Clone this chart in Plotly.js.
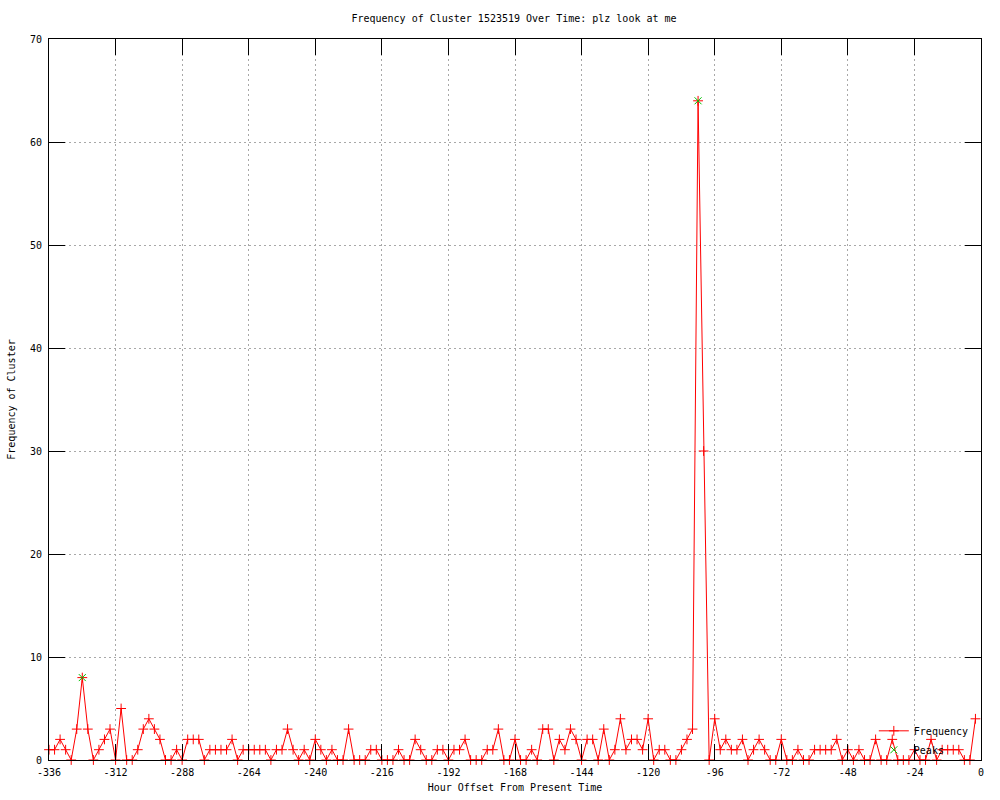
<!DOCTYPE html>
<html>
<head>
<meta charset="utf-8">
<script src="https://cdn.plot.ly/plotly-3.0.1.min.js"></script>
<style>
  html, body { margin: 0; padding: 0; background: #ffffff; }
  #chart { width: 1000px; height: 800px; }
</style>
</head>
<body>
<div id="chart"></div>
<script>
// Hour offsets (every 2 hours) and cluster frequency
const hours = [
  -336, -334, -332, -330, -328, -326, -324, -322, -320, -318,
  -316, -314, -312, -310, -308, -306, -304, -302, -300, -298,
  -296, -294, -292, -290, -288, -286, -284, -282, -280, -278,
  -276, -274, -272, -270, -268, -266, -264, -262, -260, -258,
  -256, -254, -252, -250, -248, -246, -244, -242, -240, -238,
  -236, -234, -232, -230, -228, -226, -224, -222, -220, -218,
  -216, -214, -212, -210, -208, -206, -204, -202, -200, -198,
  -196, -194, -192, -190, -188, -186, -184, -182, -180, -178,
  -176, -174, -172, -170, -168, -166, -164, -162, -160, -158,
  -156, -154, -152, -150, -148, -146, -144, -142, -140, -138,
  -136, -134, -132, -130, -128, -126, -124, -122, -120, -118,
  -116, -114, -112, -110, -108, -106, -104, -102, -100, -98,
  -96, -94, -92, -90, -88, -86, -84, -82, -80, -78,
  -76, -74, -72, -70, -68, -66, -64, -62, -60, -58,
  -56, -54, -52, -50, -48, -46, -44, -42, -40, -38,
  -36, -34, -32, -30, -28, -26, -24, -22, -20, -18,
  -16, -14, -12, -10, -8, -6, -4, -2
];
const frequency = [
  1, 1, 2, 1, 0, 3, 8, 3, 0, 1,
  2, 3, 0, 5, 0, 0, 1, 3, 4, 3,
  2, 0, 0, 1, 0, 2, 2, 2, 0, 1,
  1, 1, 1, 2, 0, 1, 1, 1, 1, 1,
  0, 1, 1, 3, 1, 0, 1, 0, 2, 1,
  0, 1, 0, 0, 3, 0, 0, 0, 1, 1,
  0, 0, 0, 1, 0, 0, 2, 1, 0, 0,
  1, 1, 0, 1, 1, 2, 0, 0, 0, 1,
  1, 3, 0, 0, 2, 0, 0, 1, 0, 3,
  3, 0, 2, 1, 3, 2, 0, 2, 2, 0,
  3, 0, 1, 4, 1, 2, 2, 1, 4, 0,
  1, 1, 0, 0, 1, 2, 3, 64, 30, 0,
  4, 1, 2, 1, 1, 2, 0, 1, 2, 1,
  0, 0, 2, 0, 0, 1, 0, 0, 1, 1,
  1, 1, 2, 0, 1, 0, 1, 0, 0, 2,
  0, 0, 2, 0, 0, 0, 1, 0, 0, 2,
  0, 1, 1, 1, 1, 0, 0, 4
];
// Detected peaks
const peakHours = [-324, -102];
const peakValues = [8, 64];

// Axis ticks
const xTickVals = [-336, -312, -288, -264, -240, -216, -192, -168, -144, -120, -96, -72, -48, -24, 0];
const xTickText = ['-336', '-312', '-288', '-264', '-240', '-216', '-192', '-168', '-144', '-120', '-96', '-72', '-48', '-24', '0'];
const yTickVals = [0, 10, 20, 30, 40, 50, 60, 70];

const titleText = 'Frequency of Cluster 1523519 Over Time: plz look at me';
const xTitle = 'Hour Offset From Present Time';
const yTitle = 'Frequency of Cluster';

const FONT = 'DejaVu Sans Mono, Liberation Mono, monospace';

const traces = [
  {
    type: 'scatter',
    mode: 'lines+markers',
    name: 'Frequency',
    x: hours,
    y: frequency,
    cliponaxis: false,
    line: { color: '#ff0000', width: 1 },
    marker: {
      symbol: 'cross-thin-open',
      size: 7,
      color: '#ff0000',
      line: { color: '#ff0000', width: 1 }
    }
  },
  {
    type: 'scatter',
    mode: 'markers',
    name: 'Peaks',
    x: peakHours,
    y: peakValues,
    cliponaxis: false,
    marker: {
      symbol: 'x-thin-open',
      size: 7,
      color: '#00c000',
      line: { color: '#00c000', width: 1 }
    }
  }
];

const axisCommon = {
  showline: true,
  linecolor: '#000000',
  linewidth: 1,
  mirror: 'ticks',
  ticks: 'inside',
  ticklen: 16,
  tickwidth: 1,
  tickcolor: '#000000',
  showgrid: true,
  gridcolor: '#a8a8a8',
  gridwidth: 1,
  griddash: '2px,3px',
  zeroline: false,
  tickfont: { family: FONT, size: 10, color: '#000000' }
};

const layout = {
  width: 1000,
  height: 800,
  paper_bgcolor: '#ffffff',
  plot_bgcolor: '#ffffff',
  margin: { l: 49, r: 19, t: 39, b: 40 },
  font: { family: FONT, size: 10, color: '#000000' },
  title: {
    text: titleText,
    font: { family: FONT, size: 10, color: '#000000' },
    x: 0.514,
    xanchor: 'center',
    y: 0.977,
    yanchor: 'middle',
    yref: 'container'
  },
  xaxis: Object.assign({}, axisCommon, {
    range: [-336, 0],
    tickmode: 'array',
    tickvals: xTickVals,
    ticktext: xTickText,
    ticklabelstandoff: 3,
    title: { text: xTitle, font: { family: FONT, size: 10, color: '#000000' }, standoff: 6 }
  }),
  yaxis: Object.assign({}, axisCommon, {
    range: [0, 70],
    tickmode: 'array',
    tickvals: yTickVals,
    ticklabelstandoff: 4,
    title: { text: yTitle, font: { family: FONT, size: 10, color: '#000000' }, standoff: 12 }
  }),
  showlegend: true,
  legend: {
    x: 0.885,
    y: -0.006,
    xanchor: 'left',
    yanchor: 'bottom',
    bgcolor: 'rgba(0,0,0,0)',
    borderwidth: 0,
    font: { family: FONT, size: 10, color: '#000000' },
    tracegroupgap: 0,
    itemwidth: 30
  }
};

Plotly.newPlot('chart', traces, layout, { staticPlot: true, displayModeBar: false });
</script>
</body>
</html>
